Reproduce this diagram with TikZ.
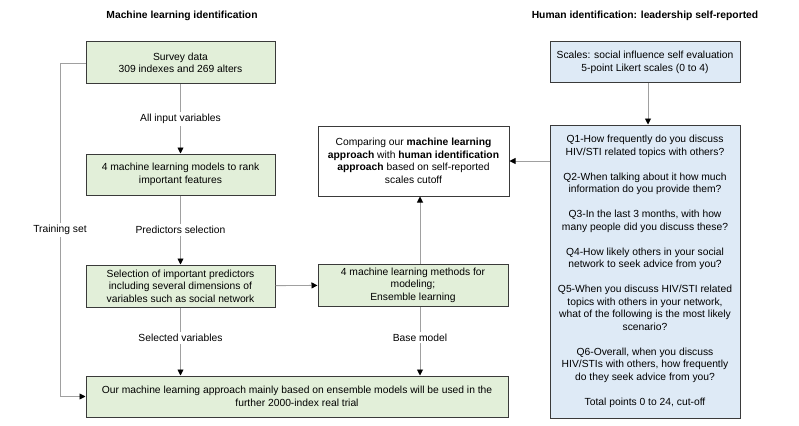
\documentclass[tikz,border=0pt]{standalone}
\usepackage{fontspec}
\setmainfont{Liberation Sans}
\usepackage{tikz}
\usetikzlibrary{positioning}
\usetikzlibrary{arrows.meta}
\usetikzlibrary{calc}

\definecolor{mlgreen}{HTML}{E2EFD9}
\definecolor{hublue}{HTML}{DEEAF6}
\definecolor{boxline}{HTML}{3A3A3A}
\definecolor{linkgray}{HTML}{A0A0A0}

\tikzset{
    box/.style={draw=boxline, line width=1pt, align=center, inner sep=2pt,
        font=\fontsize{10.3}{12.5}\selectfont},
    greenbox/.style={box, fill=mlgreen},
    bluebox/.style={box, fill=hublue},
    link/.style={draw=linkgray, line width=0.9pt,
        -{Triangle[black,length=6pt,width=6pt]}},
    lbl/.style={fill=white, inner sep=2pt, font=\fontsize{10.3}{12.5}\selectfont},
    head/.style={font=\bfseries\fontsize{10.3}{12.5}\selectfont}
}

\begin{document}
\begin{tikzpicture}[x=1pt, y=-1pt]
        \useasboundingbox (0,0) rectangle (799,425);
        % titles
        \node[head] (mlhead) at (182,16) {Machine learning identification};
        \node[head] (huhead) at (645,16) {Human identification: leadership self-reported};

        % machine learning side
        \node[greenbox, minimum width=189pt, minimum height=42pt] (survey) at (180.5,63)
            {Survey data\\309 indexes and 269 alters};
        \node[greenbox, minimum width=189pt, minimum height=41pt] (rank) at (180.5,174.5)
            {4 machine learning models to rank\\important features};
        \node[greenbox, minimum width=189pt, minimum height=42pt] (select) at (180.5,286)
            {Selection of important predictors\\including several dimensions of\\variables such as social network};
        \node[greenbox, minimum width=190pt, minimum height=42pt] (methods) at (413,285)
            {4 machine learning methods for\\modeling;\\Ensemble learning};
        \node[greenbox, minimum width=422pt, minimum height=41pt] (final) at (297,396.5)
            {Our machine learning approach mainly based on ensemble models will be used in the\\further 2000-index real trial};
        \node[box, minimum width=191pt, minimum height=70pt] (compare) at (413.5,161)
            {Comparing our \textbf{machine learning}\\\textbf{approach} with \textbf{human identification}\\\textbf{approach} based on self-reported\\scales cutoff};

        % human side
        \node[bluebox, minimum width=190pt, minimum height=41pt] (scales) at (645,62.5)
            {Scales: social influence self evaluation\\5-point Likert scales (0 to 4)};
        \node[bluebox, minimum width=190pt, minimum height=293pt] (questions) at (645,271.5)
            {Q1-How frequently do you discuss\\HIV/STI related topics with others?\\[12.5pt]
             Q2-When talking about it how much\\information do you provide them?\\[12.5pt]
             Q3-In the last 3 months, with how\\many people did you discuss these?\\[12.5pt]
             Q4-How likely others in your social\\network to seek advice from you?\\[12.5pt]
             Q5-When you discuss HIV/STI related\\topics with others in your network,\\what of the following is the most likely\\scenario?\\[12.5pt]
             Q6-Overall, when you discuss\\HIV/STIs with others, how frequently\\do they seek advice from you?\\[12.5pt]
             Total points 0 to 24, cut-off};

        % connectors
        \coordinate (trainx) at (60,0);
        \draw[link] (survey) -- node[lbl]{All input variables} (rank);
        \draw[link] (rank) -- node[lbl]{Predictors selection} (select);
        \draw[link] (select.south) -- node[lbl, pos=0.45]{Selected variables} (select.south |- final.north);
        \draw[link] (select) -- (methods);
        \draw[link] ([xshift=7pt]methods.north) -- ([xshift=7pt]methods.north |- compare.south);
        \draw[link] ([xshift=7pt]methods.south) -- node[lbl, pos=0.45]{Base model} ([xshift=7pt]methods.south |- final.north);
        \draw[link] (survey.west) -- (survey.west -| trainx) |- node[lbl, pos=0.25]{Training set} (final.west);
        \draw[link] ([xshift=3pt]scales.south) -- ([xshift=3pt]questions.north);
        \draw[link] (questions.west |- compare.east) -- (compare.east);
    \end{tikzpicture}
\end{document}
